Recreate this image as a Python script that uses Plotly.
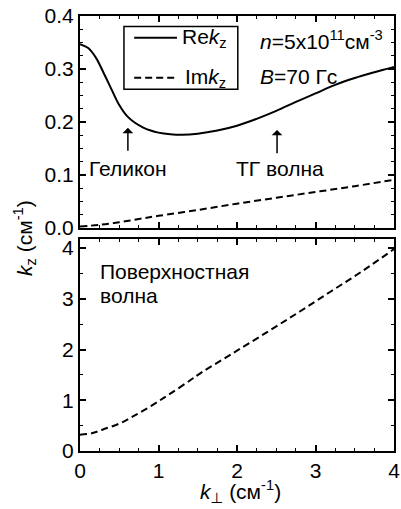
import plotly.graph_objects as go

# ---- data ----
k_re = [0, 0.1, 0.2, 0.3, 0.4, 0.5, 0.6, 0.7, 0.8, 0.9, 1.0, 1.15, 1.3, 1.5, 1.75,
        2.0, 2.25, 2.5, 2.75, 3.0, 3.25, 3.5, 3.75, 4.0]
re_kz = [0.347, 0.340, 0.322, 0.293, 0.262, 0.232, 0.211, 0.1985, 0.190, 0.184, 0.180,
         0.177, 0.176, 0.178, 0.184, 0.193, 0.206, 0.221, 0.238, 0.254, 0.270,
         0.283, 0.294, 0.304]

k_im = [0, 0.25, 0.5, 0.75, 1.0, 1.5, 2.0, 2.5, 3.0, 3.5, 4.0]
im_kz = [0.003, 0.006, 0.011, 0.017, 0.023, 0.034, 0.046, 0.057, 0.068, 0.079, 0.091]

k_surf = [0, 0.15, 0.3, 0.5, 0.65, 0.8, 1.0, 1.15, 1.4, 1.55, 1.95, 2.4, 2.8,
          3.2, 3.6, 4.0]
surf_kz = [0.32, 0.35, 0.43, 0.54, 0.66, 0.79, 0.98, 1.13, 1.39, 1.55, 1.93,
           2.36, 2.75, 3.15, 3.55, 3.98]

x_ticks = [0, 1, 2, 3, 4]
y_top_ticks = [0.0, 0.1, 0.2, 0.3, 0.4]
y_bot_ticks = [0, 1, 2, 3, 4]

FONT = "Liberation Sans, Arial, sans-serif"
FS = 21
DASH = "7px,4px"

fig = go.Figure()
fig.add_trace(go.Scatter(x=k_re, y=re_kz, mode="lines", line=dict(color="black", width=2, shape="spline"),
                         xaxis="x2", yaxis="y2", showlegend=False))
fig.add_trace(go.Scatter(x=k_im, y=im_kz, mode="lines", line=dict(color="black", width=2, dash=DASH, shape="spline"),
                         xaxis="x2", yaxis="y2", showlegend=False))
fig.add_trace(go.Scatter(x=k_surf, y=surf_kz, mode="lines", line=dict(color="black", width=2, dash=DASH, shape="spline"),
                         xaxis="x", yaxis="y", showlegend=False))

axis_common = dict(showline=True, linecolor="black", linewidth=2, mirror="allticks",
                   ticks="inside", ticklen=6, tickwidth=1.5, tickcolor="black",
                   showgrid=False, zeroline=False, automargin=False,
                   tickfont=dict(family=FONT, size=FS, color="black"))

fig.update_layout(
    width=401, height=509,
    margin=dict(l=80, r=7, t=16, b=58, autoexpand=False),
    plot_bgcolor="white", paper_bgcolor="white",
    font=dict(family=FONT, size=FS, color="black"),
    xaxis=dict(range=[0, 4], tickvals=x_ticks, anchor="y", domain=[0, 1],
               minor=dict(dtick=0.25, ticks="inside", ticklen=3, tickcolor="black", tickwidth=1.2),
               **axis_common),
    xaxis2=dict(range=[0, 4], tickvals=x_ticks, anchor="y2", matches="x", showticklabels=False,
                minor=dict(dtick=0.25, ticks="inside", ticklen=3, tickcolor="black", tickwidth=1.2),
                **axis_common),
    yaxis=dict(range=[0, 4.18], tickvals=y_bot_ticks, domain=[0, 0.4874], anchor="x",
               minor=dict(dtick=0.5, ticks="inside", ticklen=3, tickcolor="black", tickwidth=1.2),
               **axis_common),
    yaxis2=dict(range=[0, 0.4], tickvals=y_top_ticks, tickformat=".1f", domain=[0.5126, 1], anchor="x2",
                minor=dict(dtick=0.025, ticks="inside", ticklen=3, tickcolor="black", tickwidth=1.2),
                **axis_common),
)

# legend (drawn manually)
fig.add_shape(type="rect", xref="x2", yref="y2", x0=0.56, x1=2.01, y0=0.262, y1=0.380,
              line=dict(color="black", width=1.5), fillcolor="white", layer="above")
fig.add_shape(type="line", xref="x2", yref="y2", x0=0.69, x1=1.235, y0=0.359, y1=0.359,
              line=dict(color="black", width=2))
fig.add_shape(type="line", xref="x2", yref="y2", x0=0.69, x1=1.235, y0=0.2836, y1=0.2836,
              line=dict(color="black", width=2, dash=DASH))

annos = [
    dict(text="Re<i>k</i><sub>z</sub>", x=1.28, y=0.359, xanchor="left"),
    dict(text="Im<i>k</i><sub>z</sub>", x=1.31, y=0.2836, xanchor="left"),
    dict(text="<i>n</i>=5x10<sup>11</sup>см<sup>-3</sup>", x=2.27, y=0.355, xanchor="left"),
    dict(text="<i>B</i>=70 Гс", x=2.27, y=0.2855, xanchor="left"),
    dict(text="Геликон", x=0.61, y=0.113, xanchor="center"),
    dict(text="ТГ волна", x=2.55, y=0.113, xanchor="center"),
]
for a in annos:
    fig.add_annotation(xref="x2", yref="y2", showarrow=False, yanchor="middle",
                       font=dict(family=FONT, size=FS, color="black"), **a)

# arrows
for xa, yh, yt in [(0.61, 0.189, 0.143), (2.51, 0.185, 0.138)]:
    fig.add_annotation(xref="x2", yref="y2", x=xa, y=yh, axref="x2", ayref="y2", ax=xa, ay=yt,
                       text="", showarrow=True, arrowhead=1, arrowsize=1.2, arrowwidth=1.5,
                       arrowcolor="black")

fig.add_annotation(xref="x", yref="y", x=0.23, y=3.53, text="Поверхностная", showarrow=False,
                   xanchor="left", yanchor="middle", font=dict(family=FONT, size=FS, color="black"))
fig.add_annotation(xref="x", yref="y", x=0.23, y=3.07, text="волна", showarrow=False,
                   xanchor="left", yanchor="middle", font=dict(family=FONT, size=FS, color="black"))

# axis titles
fig.add_annotation(xref="paper", yref="paper", x=-0.175, y=0.49, textangle=-90,
                   text="<i>k</i><sub>z</sub> (см<sup>-1</sup>)", showarrow=False,
                   xanchor="center", yanchor="middle", font=dict(family=FONT, size=FS, color="black"))
fig.add_annotation(xref="paper", yref="paper", x=0.51, y=-0.093,
                   text="<i>k</i><sub><span style='font-family:DejaVu Sans'>⊥</span></sub> (см<sup>-1</sup>)",
                   showarrow=False,
                   xanchor="center", yanchor="middle", font=dict(family=FONT, size=FS, color="black"))

fig.write_html("out.html", config={"displayModeBar": False},
               post_script="document.body.style.margin='0';document.body.style.padding='0';")
